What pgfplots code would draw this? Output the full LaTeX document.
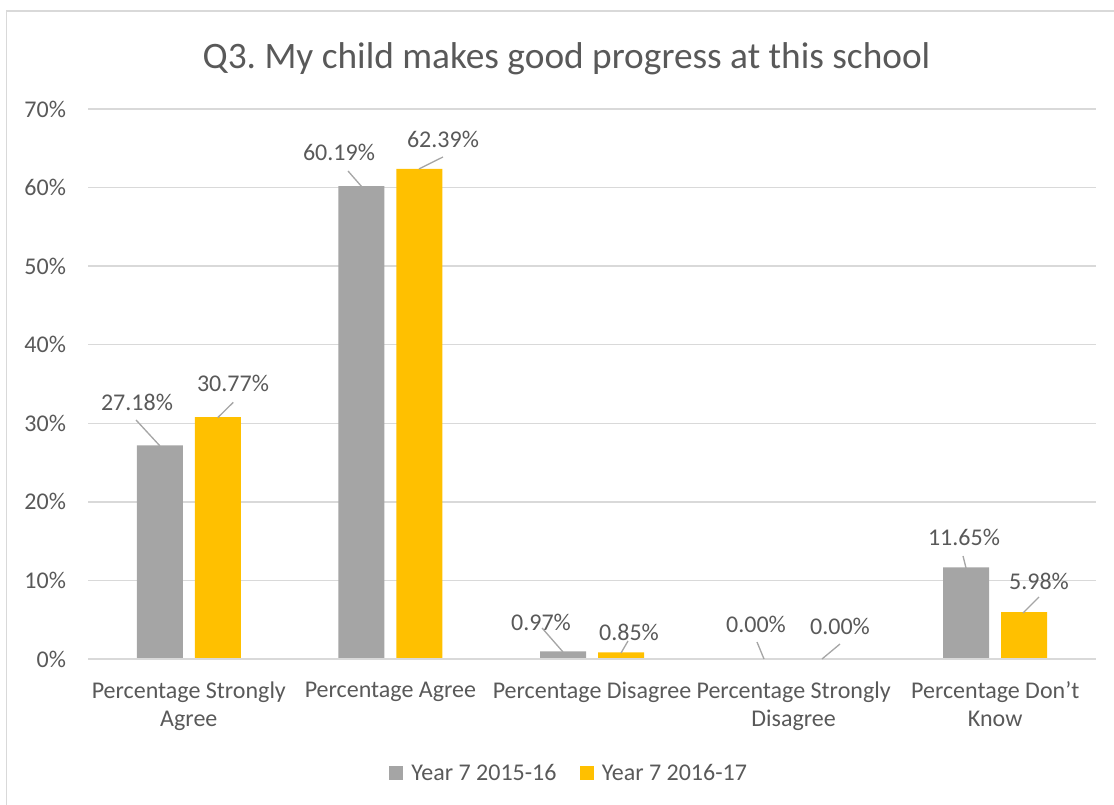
\documentclass[border=0pt]{standalone}
\usepackage{pgfplots}
\pgfplotsset{compat=1.18}
\usepackage{pgfplotstable}
\usepackage{fontspec}
\setmainfont{Carlito}
\frenchspacing
\definecolor{txt}{HTML}{595959}
\definecolor{gridc}{HTML}{D9D9D9}
\definecolor{grayb}{HTML}{A5A5A5}
\definecolor{yelb}{HTML}{FFC000}
\definecolor{leadc}{HTML}{A6A6A6}

\pgfplotstableread{
x y dx dy
0 27.18 -22.8 43.4
1 60.19 -22.4 34.1
2 0.97 -22 29.4
3 0.00 -8.6 35
4 11.65 -2.2 30.5
}\graydata
\pgfplotstableread{
x y dx dy
0 30.77 15.2 34.2
1 62.39 23.6 29.8
2 0.85 8 20.3
3 0.00 17.4 33
4 5.98 14.8 31
}\yellowdata

\begin{document}
\begin{tikzpicture}
\path[use as bounding box] (0,0) rectangle (835.5pt,603.75pt);
\draw[gridc, line width=1pt] (4.875pt,0) -- (4.875pt,595.5pt) -- (835.5pt,595.5pt);
\node[text=txt, font=\fontsize{28}{33}\selectfont] at (424.9pt,560pt) {Q3. My child makes good progress at this school};
\begin{axis}[
  at={(66pt,109.5pt)}, anchor=south west,
  scale only axis, width=756pt, height=412.5pt,
  ybar=9pt, bar width=34.5pt,
  xmin=-0.5, xmax=4.5, ymin=0, ymax=70,
  ytick={0,10,...,70},
  yticklabels={0\%,10\%,20\%,30\%,40\%,50\%,60\%,70\%},
  xtick={0,1,2,3,4},
  xticklabels={{Percentage Strongly\\Agree},{Percentage Agree},{Percentage Disagree},{Percentage Strongly\\Disagree},{Percentage Don’t\\Know}},
  xticklabel style={align=center, text=txt, font=\fontsize{18}{21}\selectfont, yshift=-13.5pt},
  yticklabel style={text=txt, font=\fontsize{18}{21}\selectfont, xshift=-13pt},
  major tick length=0pt,
  ymajorgrids, grid style={gridc, line width=1pt},
  axis line style={draw=none},
  clip=false,
  /pgf/number format/assume math mode=true,
  nodes near coords={\pgfmathprintnumber[fixed,fixed zerofill,precision=2]{\pgfplotspointmeta}\%},
  visualization depends on={\thisrow{dx} \as \dx},
  visualization depends on={\thisrow{dy} \as \dy},
  every node near coord/.append style={anchor=center, text=txt, font=\fontsize{18}{21}\selectfont, xshift=0.75*\dx pt, yshift=0.75*\dy pt},
  legend style={at={(0.4777,-0.2073)}, anchor=center, draw=none, fill=none, legend columns=2, font=\fontsize{18}{21}\selectfont, text=txt, /tikz/every even column/.append style={column sep=15.5pt}},
  legend image code/.code={\fill[#1] (0pt,-5.25pt) rectangle (10.5pt,5.25pt);},
]
\addplot[fill=grayb, draw=none] table[x=x, y=y] {\graydata};
\addlegendentry{\hspace{4pt}Year 7 2015-16}
\addplot[fill=yelb, draw=none] table[x=x, y=y] {\yellowdata};
\addlegendentry{\hspace{4pt}Year 7 2016-17}
\draw[gridc, line width=1pt] (axis cs:-0.5,0) -- (axis cs:4.5,0);
\begin{scope}[leadc, line width=1pt]
\draw (axis cs:-0.2619,30.42) -- (axis cs:-0.1429,27.11);
\draw (axis cs:0.1434,30.71) -- (axis cs:0.2207,32.67);
\draw (axis cs:0.7897,62.11) -- (axis cs:0.8591,60.07);
\draw (axis cs:1.1419,62.37) -- (axis cs:1.2609,63.89);
\draw (axis cs:1.7520,3.95) -- (axis cs:1.8562,0.89);
\draw (axis cs:2.1786,2.29) -- (axis cs:2.1438,0.76);
\draw (axis cs:2.8185,2.16) -- (axis cs:2.8532,0);
\draw (axis cs:3.2302,1.91) -- (axis cs:3.1409,0);
\draw (axis cs:3.8403,13.11) -- (axis cs:3.8552,11.58);
\draw (axis cs:4.2173,7.89) -- (axis cs:4.1379,5.85);
\end{scope}
\end{axis}
\end{tikzpicture}
\end{document}
